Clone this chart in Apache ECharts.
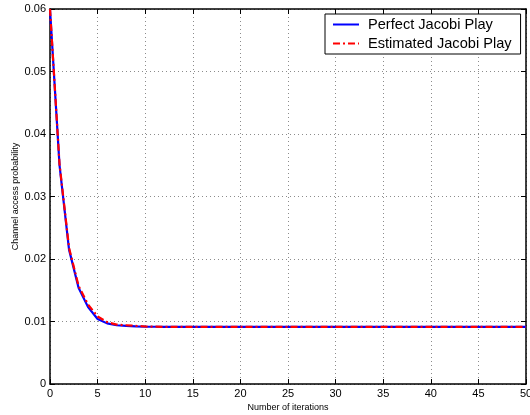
<!DOCTYPE html>
<html style="height: 100%">
   <head>
       <meta charset="utf-8">
       <title>Channel access probability</title>
   </head>
   <body style="height: 100%; margin: 0; background: #fff">
       <div id="container" style="width: 530px; height: 415px"></div>
       <script type="text/javascript" src="https://cdn.jsdelivr.net/npm/echarts@6/dist/echarts.min.js"></script>
       <script type="text/javascript">
var iterations = [];
for (var k = 0; k <= 50; k++) iterations.push(k);

var perfectJacobi = [
    0.0600, 0.0350, 0.0215, 0.0154, 0.0123, 0.0104, 0.0097, 0.0094, 0.0093, 0.00922,
    0.00918, 0.00916, 0.00915, 0.00914, 0.00913, 0.00913, 0.00913, 0.00913, 0.00913, 0.00913,
    0.00913, 0.00913, 0.00913, 0.00913, 0.00913, 0.00913, 0.00913, 0.00913, 0.00913, 0.00913,
    0.00913, 0.00913, 0.00913, 0.00913, 0.00913, 0.00913, 0.00913, 0.00913, 0.00913, 0.00913,
    0.00913, 0.00913, 0.00913, 0.00913, 0.00913, 0.00913, 0.00913, 0.00913, 0.00913, 0.00913,
    0.00913
];
var estimatedJacobi = [
    0.0600, 0.0352, 0.0218, 0.0157, 0.0127, 0.0108, 0.0099, 0.0095, 0.0094, 0.0093,
    0.0092, 0.00917, 0.00915, 0.00914, 0.00913, 0.00913, 0.00913, 0.00913, 0.00913, 0.00913,
    0.00913, 0.00913, 0.00913, 0.00913, 0.00913, 0.00913, 0.00913, 0.00913, 0.00913, 0.00913,
    0.00913, 0.00913, 0.00913, 0.00913, 0.00913, 0.00913, 0.00913, 0.00913, 0.00913, 0.00913,
    0.00913, 0.00913, 0.00913, 0.00913, 0.00913, 0.00913, 0.00913, 0.00913, 0.00913, 0.00913,
    0.00913
];
var seriesNames = ['Perfect Jacobi Play', 'Estimated Jacobi Play'];

var font = "'Liberation Sans', Arial, sans-serif";

function pairs(ys) {
    var res = [];
    for (var i = 0; i < ys.length; i++) res.push([iterations[i], ys[i]]);
    return res;
}

var myChart = echarts.init(document.getElementById('container'));

var axisLine = { show: true, onZero: false, lineStyle: { color: '#000', width: 1.5 } };
var axisTick = { show: true, inside: true, length: 5, lineStyle: { color: '#000', width: 1 } };
var gridLine = { show: true, lineStyle: { color: '#8c8c8c', width: 1, type: [1, 3] } };

var option = {
    backgroundColor: '#fff',
    animation: false,
    textStyle: { fontFamily: font },
    grid: { left: 50, right: 4, top: 9, bottom: 31, outerBoundsMode: 'none', containLabel: false },
    legend: {
        data: seriesNames,
        orient: 'vertical',
        left: 325,
        top: 14,
        padding: [3, 9, 3, 7],
        itemGap: 4,
        itemWidth: 26,
        itemHeight: 14,
        itemStyle: { opacity: 0 },
        borderColor: '#000',
        borderWidth: 1,
        backgroundColor: '#fff',
        textStyle: { fontFamily: font, fontSize: 14.6, color: '#000', padding: [0, 0, 0, 4] }
    },
    xAxis: [{
        type: 'value',
        min: 0, max: 50, interval: 5,
        name: 'Number of iterations',
        nameLocation: 'middle',
        nameGap: 19,
        nameMoveOverlap: false,
        nameTextStyle: { fontFamily: font, fontSize: 9, color: '#000' },
        axisLine: axisLine,
        axisTick: axisTick,
        axisLabel: { fontFamily: font, fontSize: 11, color: '#000', margin: 4 },
        splitLine: gridLine
    }, {
        type: 'value', position: 'top',
        min: 0, max: 50, interval: 5,
        axisLine: axisLine, axisTick: axisTick,
        axisLabel: { show: false }, splitLine: { show: false }
    }],
    yAxis: [{
        type: 'value',
        min: 0, max: 0.06, interval: 0.01,
        name: 'Channel access probability',
        nameLocation: 'middle',
        nameGap: 30,
        nameMoveOverlap: false,
        nameTextStyle: { fontFamily: font, fontSize: 9, color: '#000' },
        axisLine: axisLine,
        axisTick: axisTick,
        axisLabel: {
            fontFamily: font, fontSize: 11, color: '#000', margin: 4,
            formatter: function (v) { return v === 0 ? '0' : v.toFixed(2); }
        },
        splitLine: gridLine
    }, {
        type: 'value', position: 'right',
        min: 0, max: 0.06, interval: 0.01,
        axisLine: axisLine, axisTick: axisTick,
        axisLabel: { show: false }, splitLine: { show: false }
    }],
    series: [{
        name: seriesNames[0],
        type: 'line',
        data: pairs(perfectJacobi),
        symbol: 'none',
        itemStyle: { color: '#0000ff' },
        lineStyle: { color: '#0000ff', width: 2.2 }
    }, {
        name: seriesNames[1],
        type: 'line',
        data: pairs(estimatedJacobi),
        symbol: 'none',
        itemStyle: { color: '#ff0000' },
        lineStyle: { color: '#ff0000', width: 2.2, type: [7, 3, 2, 3] }
    }]
};
myChart.setOption(option, true);
       </script>
   </body>
</html>
